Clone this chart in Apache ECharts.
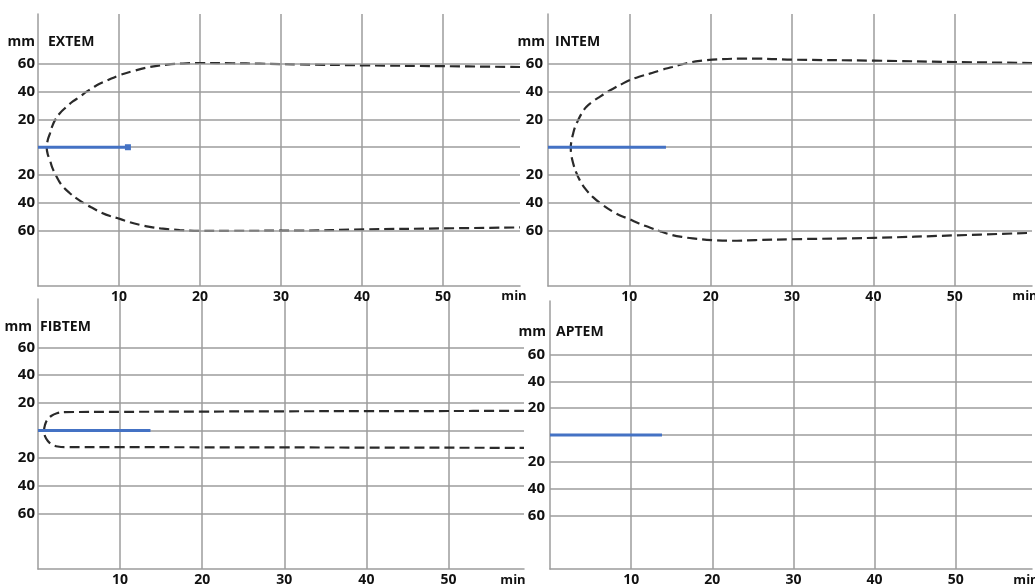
<!DOCTYPE html>
<html>
<head>
<meta charset="utf-8">
<script src="https://cdn.jsdelivr.net/npm/echarts@6/dist/echarts.min.js"></script>
<style>html,body{margin:0;padding:0;background:#fff;}#c{width:1035px;height:587px;}</style>
</head>
<body>
<div id="c"></div>
<script>
// ---- data ----
const panelNames = ['EXTEM', 'INTEM', 'FIBTEM', 'APTEM'];
const xTickLabels = [10, 20, 30, 40, 50];
const yGridValues = [60, 40, 20, 0, -20, -40, -60];
const ctEnd = [11.1, 14.5, 13.7, 13.8];   // blue clotting-time line end (min)

const extemUpperT = [1.07, 1.2, 1.48, 1.75, 2.1, 2.7, 3.5, 4.3, 5.2, 6.0, 6.8, 7.6, 8.5, 10.1, 11.8, 13.8, 15.9, 17.9, 20, 24, 27.4, 32.3, 40.2, 50, 59.5];
const extemUpperA = [0, 5, 10, 15, 19.5, 24.5, 29, 33, 36.5, 40, 43, 45.7, 48, 52, 55, 57.8, 59.5, 60.3, 60.7, 60.5, 60.2, 59.7, 59, 58.4, 57.8];
const extemLowerT = [1.2, 1.48, 1.75, 2.1, 2.55, 3.1, 3.9, 4.8, 5.8, 6.8, 7.8, 8.9, 10.1, 11.3, 12.6, 13.8, 15.1, 17.5, 20, 24, 32.3, 40.2, 50, 59.5];
const extemLowerA = [-5, -9.4, -14.5, -19, -24, -28.6, -33, -37, -40.8, -44, -47, -49.6, -51.6, -54, -56, -57.4, -58.5, -59.7, -60.3, -60.2, -60.1, -59.2, -58.5, -57.8];

const intemUpperT = [2.8, 2.9, 3.1, 3.35, 3.7, 4.15, 4.7, 5.5, 6.4, 7.2, 8, 9, 10, 11.2, 12.5, 13.9, 15.3, 16.5, 17.7, 19, 20.2, 23.5, 25.9, 30.1, 40.1, 50.1, 59.5];
const intemUpperA = [0, 5, 10, 15, 19.5, 24.5, 29, 33, 36.5, 39.5, 42.2, 45.3, 48.2, 50.8, 53, 55.6, 57.8, 59.8, 61.4, 62.4, 63.1, 63.8, 63.8, 63.1, 62.4, 61.4, 60.7];
const intemLowerT = [2.85, 3.1, 3.45, 3.9, 4.6, 5.5, 6.7, 8, 9, 10, 11.2, 12.5, 13.9, 15.3, 16.5, 17.8, 20.2, 22.6, 25.5, 30, 40.1, 50.1, 59.5];
const intemLowerA = [-5, -11.7, -18, -23.7, -30, -35.8, -41.5, -46.5, -49.5, -51.8, -55, -57.8, -60.8, -63.3, -64.7, -65.7, -66.9, -67.4, -66.9, -66.3, -65.3, -63.5, -61.7];

const fibtemUpperT = [0.74, 0.85, 1.1, 1.6, 2.3, 3.3, 10, 20, 30, 40, 50, 59.2];
const fibtemUpperA = [0, 4, 7.5, 10.5, 12.5, 13.3, 13.5, 13.7, 13.9, 14, 14.1, 14.2];
const fibtemLowerT = [0.85, 1.2, 1.7, 2.4, 3.3, 10, 20, 30, 40, 50, 59.2];
const fibtemLowerA = [-4, -7.5, -10, -11.5, -12, -12, -12.1, -12.2, -12.3, -12.4, -12.5];

const curves = [
  [extemUpperT, extemUpperA, extemLowerT, extemLowerA],
  [intemUpperT, intemUpperA, intemLowerT, intemLowerA],
  [fibtemUpperT, fibtemUpperA, fibtemLowerT, fibtemLowerA],
  null
];

// ---- layout ----
const layouts = [
  {left: 38, top: 14, width: 482, height: 272, xMax: 59.5, yMin: -100, yMax: 96, lblM: 3},
  {left: 548, top: 14, width: 487, height: 272, xMax: 59.5, yMin: -100, yMax: 96, lblM: 5},
  {left: 38, top: 299, width: 486, height: 272, xMax: 59.2, yMin: -100, yMax: 95, lblM: 3},
  {left: 550, top: 301, width: 485, height: 272, xMax: 59.4, yMin: -100, yMax: 100, lblM: 5}
];
const GRID = '#9c9c9c';
const FONT = '"Open Sans", "DejaVu Sans", sans-serif';

function buildPath(c) {
  const pts = [];
  for (let i = c[0].length - 1; i >= 0; i--) pts.push([c[0][i], c[1][i]]);
  for (let i = 0; i < c[2].length; i++) pts.push([c[2][i], c[3][i]]);
  return pts;
}

const grid = [], xAxis = [], yAxis = [], series = [];
layouts.forEach((L, i) => {
  grid.push({left: L.left, top: L.top, width: L.width, height: L.height});
  xAxis.push({
    type: 'value', gridIndex: i, min: 0, max: L.xMax, interval: 10,
    axisLine: {show: true, onZero: false, lineStyle: {color: GRID, width: 1.5}},
    axisTick: {show: false},
    splitLine: {show: true, showMinLine: false, showMaxLine: false, lineStyle: {color: GRID, width: 1.5}},
    axisLabel: {
      margin: 4, color: '#111', fontFamily: FONT, fontWeight: 'bold', fontSize: 14,
      formatter: v => xTickLabels.includes(v) ? String(v) : ''
    }
  });
  yAxis.push({
    type: 'value', gridIndex: i, min: L.yMin, max: L.yMax, interval: 20,
    axisLine: {show: true, lineStyle: {color: GRID, width: 1.5}},
    axisTick: {show: false},
    splitLine: {show: false},
    axisLabel: {
      margin: L.lblM, color: '#111', fontFamily: FONT, fontWeight: 'bold', fontSize: 15,
      formatter: v => (v !== 0 && Math.abs(v) <= 60 && yGridValues.includes(v)) ? String(Math.abs(v)) : ''
    }
  });
  series.push({
    type: 'line', xAxisIndex: i, yAxisIndex: i, data: [[0, 0]], showSymbol: false,
    lineStyle: {width: 0}, silent: true, z: 1,
    markLine: {
      silent: true, symbol: ['none', 'none'], label: {show: false},
      lineStyle: {type: 'solid', color: GRID, width: 1.5},
      data: yGridValues.map(v => ({yAxis: v}))
    }
  });
  if (curves[i]) {
    series.push({
      type: 'line', xAxisIndex: i, yAxisIndex: i, data: buildPath(curves[i]),
      smooth: 0.4, showSymbol: false, z: 4,
      lineStyle: {color: '#2a2a2a', width: 2.2, type: [10, 5]}
    });
  }
  series.push({
    type: 'line', xAxisIndex: i, yAxisIndex: i,
    data: i === 0 ? [{value: [0, 0], symbolSize: 0}, [ctEnd[i], 0]] : [[0, 0], [ctEnd[i], 0]],
    symbol: i === 0 ? 'rect' : 'none', symbolSize: 6,
    showSymbol: i === 0, showAllSymbol: true,
    itemStyle: {color: '#4472c4'},
    lineStyle: {color: '#4472c4', width: 3}, z: 5
  });
});

const textPos = [
  {mmX: 35, nameX: 48, y: 42, minX: 514, minY: 296},
  {mmX: 545, nameX: 555, y: 42, minX: 1025, minY: 296},
  {mmX: 32, nameX: 40, y: 327, minX: 513, minY: 580},
  {mmX: 546, nameX: 556, y: 332, minX: 1026, minY: 580}
];
const graphic = [];
textPos.forEach((p, i) => {
  graphic.push({type: 'text', x: p.mmX, y: p.y, style: {text: 'mm', fill: '#111', font: 'bold 14px ' + FONT, align: 'right', verticalAlign: 'middle'}});
  graphic.push({type: 'text', x: p.nameX, y: p.y, style: {text: panelNames[i], fill: '#111', font: 'bold 14px ' + FONT, align: 'left', verticalAlign: 'middle'}});
  graphic.push({type: 'text', x: p.minX, y: p.minY, style: {text: 'min', fill: '#111', font: 'bold 13px ' + FONT, align: 'center', verticalAlign: 'middle'}});
});

const chart = echarts.init(document.getElementById('c'));
chart.setOption({animation: false, grid, xAxis, yAxis, series, graphic});
</script>
</body>
</html>
